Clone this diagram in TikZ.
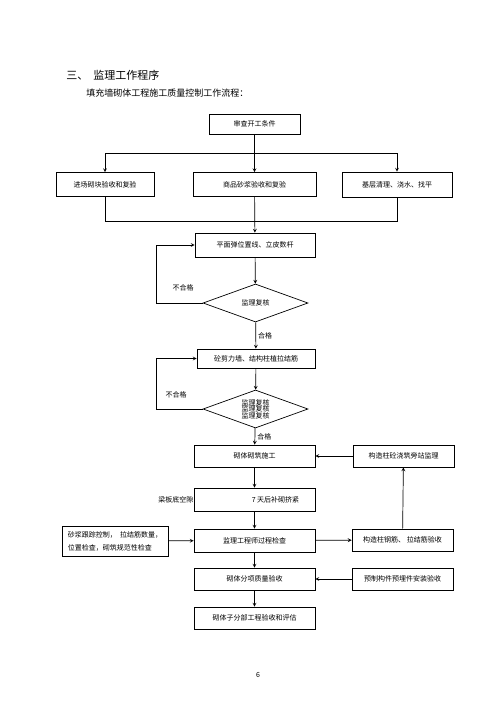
\documentclass[tikz,border=0pt]{standalone}
\usepackage{fontspec}
\setmainfont{Noto Sans CJK SC}
\usetikzlibrary{shapes.geometric}
\usetikzlibrary{positioning}

\begin{document}
\begin{tikzpicture}[x=1pt, y=-1pt, >=stealth, line width=0.7pt,
        box/.style={draw, inner sep=2pt, font=\fontsize{7}{8}\selectfont},
        check/.style={diamond, draw, inner sep=0pt, shape aspect=2.8,
            minimum width=105pt, minimum height=38pt, align=center, font=\fontsize{7}{6.5}\selectfont},
        lbl/.style={inner sep=0pt, font=\fontsize{7}{8}\selectfont}]
        \useasboundingbox (0,0) rectangle (500,707);

        \node[anchor=west, inner sep=0pt, font=\fontsize{11}{13}\selectfont] (title) at (66,75) {三、\ \ 监理工作程序};
        \node[anchor=west, inner sep=0pt, font=\fontsize{9}{11}\selectfont] (sub) at (86,93) {填充墙砌体工程施工质量控制工作流程：};

        \node[box, minimum width=91pt, minimum height=20pt] (chk) at (254.5,124) {审查开工条件};
        \node[box, minimum width=98pt, minimum height=24pt] (blk) at (105,184.5) {进场砌块验收和复验};
        \node[box, minimum width=123pt, minimum height=24pt] (mor) at (254.5,184.5) {商品砂浆验收和复验};
        \node[box, minimum width=110pt, minimum height=25pt] (base) at (397,184.5) {基层清理、浇水、找平};

        \node[box, minimum width=120pt, minimum height=24pt] (pos) at (255,245) {平面弹位置线、立皮数杆};
        \node[check] (dia1) at (255.5,303) {监理复核};
        \node[box, minimum width=118pt, minimum height=19pt] (wal) at (256,358.5) {砼剪力墙、结构柱植拉结筋};
        \node[check] (dia2) at (255.5,409) {监理复核\\监理复核\\监理复核};

        \node[box, minimum width=121pt, minimum height=22pt] (mas) at (254.5,456) {砌体砌筑施工};
        \node[box, minimum width=101pt, minimum height=22pt] (pour) at (403.5,456) {构造柱砼浇筑旁站监理};
        \node[box, minimum width=121pt, minimum height=23pt] (gap) at (254.5,499.5) {\hspace*{42pt}7 天后补砌挤紧};
        \node[lbl, anchor=east] (gaplbl) at (gap.west) {梁板底空隙};
        \node[box, minimum width=121pt, minimum height=23pt] (ins) at (254.5,540.5) {监理工程师过程检查};
        \node[box, minimum width=106pt, minimum height=30pt, align=left, font=\fontsize{7}{13}\selectfont] (mort) at (115,541) {砂浆跟踪控制，\ \ 拉结筋数量，\\位置检查，砌筑规范性检查};
        \node[box, minimum width=101pt, minimum height=22pt] (rebar) at (402.5,540) {构造柱钢筋、 拉结筋验收};
        \node[box, minimum width=121pt, minimum height=22pt] (acc) at (254.5,579) {砌体分项质量验收};
        \node[box, minimum width=101pt, minimum height=22pt] (pre) at (402.5,579) {预制构件预埋件安装验收};
        \node[box, minimum width=121pt, minimum height=22pt] (subacc) at (254.5,618) {砌体子分部工程验收和评估};

        \coordinate (split) at (254.5,153);
        \coordinate (merge) at (254.5,221);

        % top part
        \draw[->] (chk) -- (mor);
        \draw[->] (split) -| (blk);
        \draw[->] (split) -| (base);
        \draw (blk) |- (merge);
        \draw (base) |- (merge);
        \draw[->] (mor) -- (pos);

        % checks
        \draw[->] (pos) -- (dia1);
        \draw[->] (dia1.west) -- ++(-46,0) |- (pos.west);
        \node[lbl] (no1) at (183,288) {不合格};
        \draw[->] (dia1) -- node[right=2pt, lbl] {合格} (wal);
        \draw[->] (wal) -- (dia2);
        \draw[->] (dia2.west) -- ++(-46,0) |- (wal.west);
        \node[lbl] (no2) at (176,395) {不合格};
        \draw[->] (dia2) -- node[right=2pt, lbl] {合格} (mas);

        % masonry
        \draw[->] (pour) -- (mas);
        \draw[->] (mas) -- (gap);
        \draw[->] (gap) -- (ins);
        \draw[->] (mort) -- (ins);
        \draw[->] (ins) -- (rebar);
        \draw[->] (rebar) -- (pour);
        \draw[->] (ins) -- (acc);
        \draw[->] (pre) -- (acc);
        \draw[->] (acc) -- (subacc);

        \node[lbl] (page) at (258,675) {6};
    \end{tikzpicture}
\end{document}
